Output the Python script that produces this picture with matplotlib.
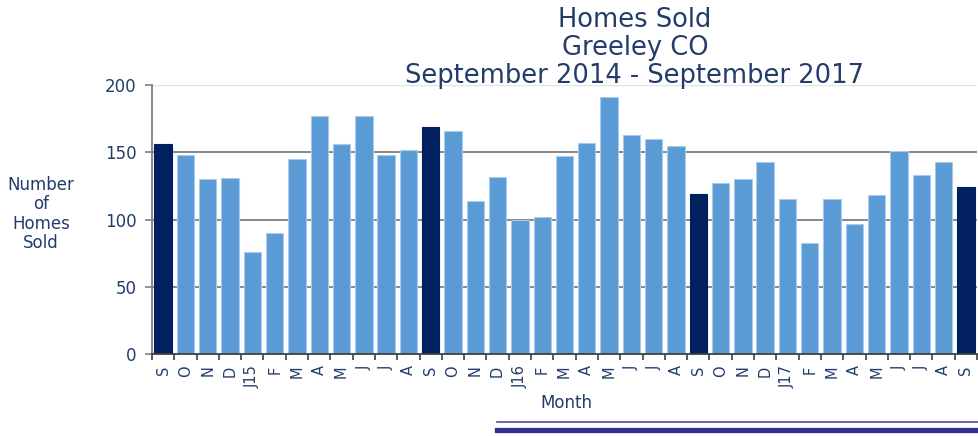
import matplotlib
matplotlib.use('Agg')
import matplotlib.pyplot as plt
import numpy as np
from matplotlib.lines import Line2D

# monthly homes sold, Sep 2014 - Sep 2017
months = ['S', 'O', 'N', 'D', 'J15', 'F', 'M', 'A', 'M', 'J', 'J', 'A',
          'S', 'O', 'N', 'D', 'J16', 'F', 'M', 'A', 'M', 'J', 'J', 'A',
          'S', 'O', 'N', 'D', 'J17', 'F', 'M', 'A', 'M', 'J', 'J', 'A',
          'S']
homes_sold = [156, 148, 130, 131, 76, 90, 145, 177, 156, 177, 148, 152,
              169, 166, 114, 132, 100, 102, 147, 157, 191, 163, 160, 155,
              119, 127, 130, 143, 115, 83, 115, 97, 118, 151, 133, 143,
              124]
september_idx = [0, 12, 24, 36]

text_color = '#233C6B'
light_blue = '#5B9BD5'
navy = '#002060'

fig = plt.figure(figsize=(9.79, 4.36), dpi=100)
ax = fig.add_axes([152 / 979, 81.7 / 436, 825 / 979, 269.3 / 436])

x = np.arange(len(months))
colors = [navy if i in september_idx else light_blue for i in x]
edges = [navy if i in september_idx else '#A9CBEB' for i in x]
ax.bar(x, homes_sold, width=0.78, color=colors, edgecolor=edges,
       linewidth=0.8, zorder=3)

ax.set_xlim(-0.5, len(months) - 0.5)
ax.set_ylim(0, 200)

# gridlines
for yv in [50, 100, 150]:
    ax.axhline(yv, color='#7F7F7F', lw=1.3, zorder=1)
ax.axhline(200, color='#E3E3E3', lw=1.0, zorder=1)

for side in ['top', 'right']:
    ax.spines[side].set_visible(False)
ax.spines['left'].set_color('#7F7F7F')
ax.spines['left'].set_linewidth(1.3)
ax.spines['bottom'].set_color('#404040')
ax.spines['bottom'].set_linewidth(1.3)
ax.spines['bottom'].set_zorder(4)

ax.set_yticks([0, 50, 100, 150, 200])
ax.tick_params(axis='y', direction='out', length=5, width=1.2,
               color='#7F7F7F', labelsize=12, labelcolor=text_color, pad=6)

ax.set_xticks(x)
ax.set_xticklabels(months, rotation=90)
ax.set_xticks(np.arange(-0.5, len(months)), minor=True)
ax.tick_params(axis='x', which='major', length=0, labelsize=10.5,
               labelcolor=text_color, pad=8)
ax.tick_params(axis='x', which='minor', direction='out', length=4,
               width=1.2, color='#404040')

fig.text(0.6486, 0.985, 'Homes Sold\nGreeley CO\nSeptember 2014 - September 2017',
         ha='center', va='top', fontsize=18.5, color=text_color, linespacing=1.1)

fig.text(41 / 979, 1 - 214 / 436, 'Number\nof\nHomes\nSold', ha='center',
         va='center', fontsize=12, color=text_color, linespacing=1.1)

fig.text(566 / 979, 1 - 403 / 436, 'Month', ha='center', va='center',
         fontsize=12, color=text_color)

# decorative double rule at the bottom
fig.add_artist(Line2D([497 / 979, 1.0], [1 - 422 / 436, 1 - 422 / 436],
                      transform=fig.transFigure, color='#4B4BA8', lw=1.2))
fig.add_artist(Line2D([497 / 979, 1.0], [1 - 430 / 436, 1 - 430 / 436],
                      transform=fig.transFigure, color='#2E3192', lw=3.8))

fig.savefig('out.png', dpi=100)
